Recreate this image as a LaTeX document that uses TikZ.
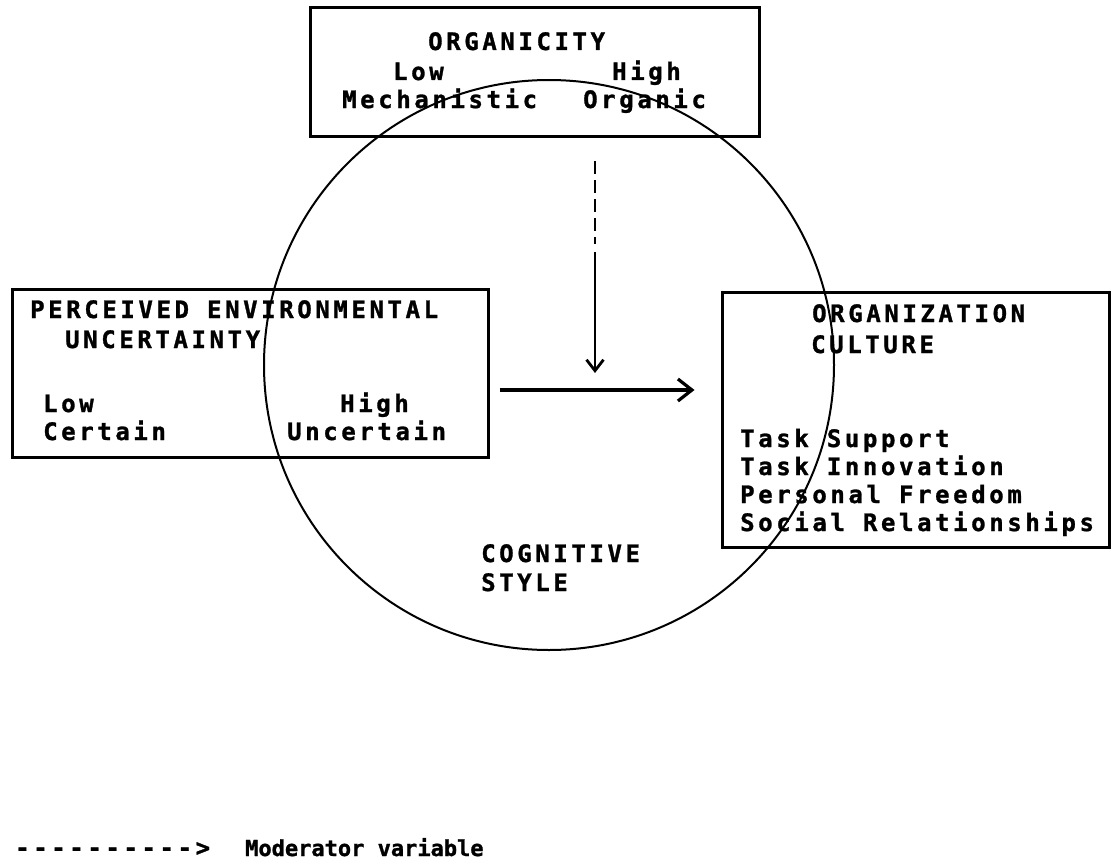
\documentclass[tikz,border=0pt]{standalone}
\usepackage{fontspec}
\usepackage{tikz}
\usetikzlibrary{
    arrows.meta,
    positioning,
    calc
}
\newfontfamily\typefont{DejaVu Sans Mono}[LetterSpace=15, FakeBold=1.2]
\newfontfamily\legendfont{DejaVu Sans Mono}[FakeBold=1.2]
\tikzset{
    vbox/.style={
        rectangle, draw=black, line width=3pt, fill=none, inner sep=0pt
    },
    vtext/.style={
        anchor=base west, inner sep=0pt, text=black,
        font=\typefont\bfseries\fontsize{24pt}{28pt}\selectfont
    },
    ltext/.style={
        anchor=base west, inner sep=0pt, text=black,
        font=\legendfont\bfseries\fontsize{22pt}{26pt}\selectfont
    },
    varr/.style={-{Straight Barb[length=14pt, width=22pt]}, line width=3.2pt, black},
    marr/.style={-{Straight Barb[length=11pt, width=17pt]}, line width=2.8pt, black},
    mline/.style={line width=2.8pt, black, dash pattern=on 13pt off 6pt},
}

\begin{document}
\begin{tikzpicture}[x=1pt, y=-1pt]

    \useasboundingbox (0,0) rectangle (1112,867);

    % boxes
    \node [vbox, minimum width=449pt, minimum height=128pt] (orgbox) at (534.5,72) {};
    \node [vbox, minimum width=476pt, minimum height=168pt] (pevbox) at (250,373) {};
    \node [vbox, minimum width=387.5pt, minimum height=255pt] (ocbox) at (915.75,419.5) {};

    % organicity
    \node [vtext] (t1) at (428,50) {ORGANICITY};
    \node [vtext] (t2) at (393,80) {Low};
    \node [vtext] (t3) at (612,80) {High};
    \node [vtext] (t4) at (342,108) {Mechanistic};
    \node [vtext] (t5) at (583,108) {Organic};

    % perceived environmental uncertainty
    \node [vtext] (p1) at (30,318) {PERCEIVED ENVIRONMENTAL};
    \node [vtext] (p2) at (65,348) {UNCERTAINTY};
    \node [vtext] (p3) at (43,412) {Low};
    \node [vtext] (p4) at (340,412) {High};
    \node [vtext] (p5) at (43,440) {Certain};
    \node [vtext] (p6) at (287,440) {Uncertain};

    % organization culture
    \node [vtext] (c1) at (812,322) {ORGANIZATION};
    \node [vtext] (c2) at (811,353) {CULTURE};
    \node [vtext] (c3) at (740,447) {Task Support};
    \node [vtext] (c4) at (740,475) {Task Innovation};
    \node [vtext] (c5) at (740,503) {Personal Freedom};
    \node [vtext] (c6) at (740,531) {Social Relationships};

    % cognitive style
    \node [circle, draw=black, line width=2pt, minimum size=570pt, inner sep=0pt] (cogcircle) at (549,365) {};
    \node [vtext] (s1) at (481,562) {COGNITIVE};
    \node [vtext] (s2) at (481,591) {STYLE};

    % arrows
    \coordinate (flow) at (595,390);
    \coordinate (modtop) at (595,161);
    \coordinate (modmid) at (595,244);
    \draw [mline] (modtop) -- (modmid);
    \draw [marr, shorten <=8pt, shorten >=17pt] (modmid) -- (flow);
    \draw [varr, shorten <=10pt, shorten >=26pt] (pevbox.east |- flow) -- (ocbox.west |- flow);

    % legend
    \node [vtext] (leg1) at (15,856) {---------->};
    \node [ltext] (leg2) at (245,856) {Moderator variable};

\end{tikzpicture}
\end{document}
